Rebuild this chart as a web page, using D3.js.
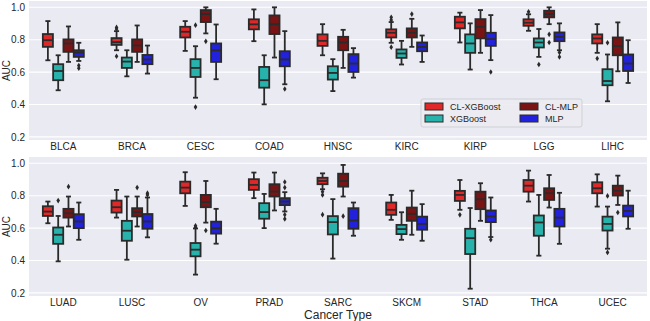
<!DOCTYPE html>
<html>
<head>
<meta charset="utf-8">
<script src="https://cdn.jsdelivr.net/npm/d3@7"></script>
<style>
  html, body { margin: 0; padding: 0; background: #ffffff; }
  svg { display: block; }
  text { font-family: "Liberation Sans", Arial, sans-serif; fill: #262626; }
</style>
</head>
<body>
<svg id="chart" width="650" height="321"></svg>
<script>
// ---------------- DATA ----------------
const cancersTop = ["BLCA","BRCA","CESC","COAD","HNSC","KIRC","KIRP","LGG","LIHC"];
const cancersBottom = ["LUAD","LUSC","OV","PRAD","SARC","SKCM","STAD","THCA","UCEC"];
const seriesNames = ["CL-XGBoost","XGBoost","CL-MLP","MLP"];
const seriesColors = ["#e02828","#27b3ab","#7a1414","#2222dc"];
const yTicks = [0.2,0.4,0.6,0.8,1.0];

// box stats per cancer type (order: cancersTop then cancersBottom): [whiskerLow, q1, median, q3, whiskerHigh]
const clXgbStats = [
  [0.673,0.756,0.797,0.835,0.915],[0.735,0.768,0.785,0.810,0.853],[0.731,0.814,0.849,0.880,0.915],
  [0.791,0.864,0.895,0.926,0.987],[0.704,0.762,0.793,0.833,0.896],[0.781,0.814,0.843,0.864,0.909],
  [0.783,0.870,0.907,0.942,0.967],[0.855,0.886,0.905,0.926,0.957],[0.719,0.777,0.808,0.833,0.896],
  [0.630,0.675,0.702,0.735,0.764],[0.665,0.696,0.729,0.770,0.836],[0.737,0.815,0.850,0.887,0.945],
  [0.785,0.836,0.867,0.902,0.943],[0.840,0.871,0.891,0.911,0.938],[0.651,0.682,0.713,0.758,0.805],
  [0.713,0.768,0.805,0.830,0.897],[0.764,0.825,0.862,0.897,0.955],[0.733,0.815,0.846,0.883,0.932]
];
const xgbStats = [
  [0.488,0.550,0.607,0.649,0.704],[0.574,0.626,0.665,0.690,0.735],[0.442,0.570,0.626,0.680,0.760],
  [0.401,0.504,0.550,0.632,0.704],[0.483,0.554,0.595,0.636,0.680],[0.647,0.688,0.715,0.740,0.793],
  [0.616,0.719,0.777,0.833,0.901],[0.694,0.752,0.783,0.808,0.866],[0.420,0.519,0.545,0.618,0.709],
  [0.395,0.503,0.559,0.604,0.675],[0.405,0.522,0.584,0.645,0.795],[0.313,0.426,0.467,0.508,0.598],
  [0.600,0.658,0.699,0.754,0.811],[0.412,0.561,0.637,0.674,0.779],[0.528,0.563,0.594,0.620,0.698],
  [0.226,0.440,0.538,0.596,0.724],[0.430,0.553,0.635,0.678,0.805],[0.473,0.585,0.626,0.671,0.733]
];
const clMlpStats = [
  [0.663,0.725,0.777,0.802,0.882],[0.663,0.725,0.764,0.802,0.888],[0.839,0.909,0.958,0.983,1.000],
  [0.690,0.835,0.895,0.950,1.000],[0.626,0.735,0.783,0.818,0.861],[0.756,0.814,0.843,0.870,0.929],
  [0.719,0.808,0.880,0.927,0.983],[0.896,0.938,0.958,0.979,1.000],[0.605,0.704,0.760,0.814,0.907],
  [0.610,0.665,0.692,0.719,0.795],[0.610,0.672,0.698,0.723,0.795],[0.634,0.729,0.760,0.805,0.891],
  [0.709,0.795,0.826,0.871,0.943],[0.795,0.856,0.891,0.936,0.990],[0.559,0.645,0.688,0.727,0.831],
  [0.645,0.717,0.778,0.825,0.877],[0.727,0.774,0.815,0.846,0.928],[0.743,0.801,0.831,0.862,0.924]
];
const mlpStats = [
  [0.669,0.694,0.721,0.735,0.781],[0.591,0.649,0.678,0.706,0.764],[0.556,0.663,0.735,0.777,0.894],
  [0.525,0.636,0.678,0.729,0.853],[0.566,0.601,0.653,0.711,0.748],[0.663,0.729,0.756,0.783,0.826],
  [0.674,0.762,0.804,0.843,0.952],[0.735,0.791,0.818,0.845,0.901],[0.533,0.607,0.653,0.709,0.797],
  [0.528,0.600,0.641,0.686,0.758],[0.543,0.596,0.641,0.687,0.789],[0.504,0.566,0.599,0.640,0.719],
  [0.703,0.742,0.764,0.785,0.822],[0.553,0.596,0.647,0.723,0.758],[0.522,0.590,0.626,0.671,0.748],
  [0.545,0.637,0.672,0.709,0.789],[0.503,0.610,0.665,0.719,0.818],[0.596,0.672,0.706,0.739,0.831]
];

// outliers per cancer type (same order)
const clXgbOutliers = [[],[0.876,0.866,0.698],[],[],[],[0.938,0.921,0.754],[],[0.972],[0.684],
  [],[],[],[],[0.825,0.805,0.683],[],[0.682],[],[]];
const xgbOutliers = [[],[],[0.384,0.890],[],[],[],[],[0.647],[0.781],
  [0.770],[],[0.614,0.606],[],[],[],[],[],[0.799,0.450]];
const clMlpOutliers = [[],[],[0.790],[],[],[0.958],[],[0.833,0.783],[],
  [0.856],[0.850],[0.585],[],[0.674],[],[],[],[0.696]];
const mlpOutliers = [[0.641,0.624],[],[],[0.496],[],[],[0.601],[0.721,0.694],[],
  [],[0.816,0.805],[],[0.885,0.850,0.683,0.657],[],[],[0.528],[],[]];

// ---------------- CHART ----------------
const statsBySeries = [clXgbStats, xgbStats, clMlpStats, mlpStats];
const outBySeries = [clXgbOutliers, xgbOutliers, clMlpOutliers, mlpOutliers];
const lineColor = "#2a2a2a";
const bg = "#eaeaf2";
const svg = d3.select("#chart");

const left = 29, right = 647;
const panels = [
  {cats: cancersTop, offset: 0, top: 1, bottom: 140},
  {cats: cancersBottom, offset: 9, top: 157, bottom: 296}
];
const yDomain = [0.181, 1.039];

panels.forEach((p, pi) => {
  const x = d3.scaleBand().domain(p.cats).range([left, right]).paddingInner(0).paddingOuter(0);
  const y = d3.scaleLinear().domain(yDomain).range([p.bottom, p.top]);
  const bw = x.bandwidth();
  const hue = d3.scaleBand().domain(seriesNames).range([-0.3 * bw, 0.3 * bw]);
  const boxW = hue.bandwidth() * 0.98;

  const g = svg.append("g");
  g.append("rect").attr("x", left).attr("y", p.top).attr("width", right - left)
    .attr("height", p.bottom - p.top).attr("fill", bg);

  // grid
  g.selectAll(".grid").data(yTicks).join("line")
    .attr("x1", left).attr("x2", right)
    .attr("y1", d => y(d)).attr("y2", d => y(d))
    .attr("stroke", "#ffffff").attr("stroke-width", 1.1);

  // y axis
  const ya = g.append("g").attr("transform", `translate(${left},0)`)
    .call(d3.axisLeft(y).tickValues(yTicks).tickFormat(d3.format(".1f")).tickSize(0).tickPadding(4));
  ya.select(".domain").remove();
  ya.selectAll("text").attr("font-size", 10).attr("fill", "#262626")
    .style("font-family", '"Liberation Sans", Arial, sans-serif');

  // x axis
  const xa = g.append("g").attr("transform", `translate(0,${p.bottom})`)
    .call(d3.axisBottom(x).tickSize(0).tickPadding(3));
  xa.select(".domain").remove();
  xa.selectAll("text").attr("font-size", 10).attr("fill", "#262626")
    .style("font-family", '"Liberation Sans", Arial, sans-serif');

  // y label
  g.append("text")
    .attr("transform", `translate(9.5,${(p.top + p.bottom) / 2}) rotate(-90)`)
    .attr("text-anchor", "middle").attr("font-size", 10).text("AUC");

  // boxes
  p.cats.forEach((cat, ci) => {
    const idx = p.offset + ci;
    seriesNames.forEach((s, si) => {
      const st = statsBySeries[si][idx];
      const cx = x(cat) + bw / 2 + hue(s) + hue.bandwidth() / 2;
      const bg2 = g.append("g");
      const capW = boxW / 2;
      // whiskers
      bg2.append("line").attr("x1", cx).attr("x2", cx).attr("y1", y(st[0])).attr("y2", y(st[1]))
        .attr("stroke", lineColor).attr("stroke-width", 1.8);
      bg2.append("line").attr("x1", cx).attr("x2", cx).attr("y1", y(st[3])).attr("y2", y(st[4]))
        .attr("stroke", lineColor).attr("stroke-width", 1.8);
      // caps
      [st[0], st[4]].forEach(v => {
        bg2.append("line").attr("x1", cx - capW / 2).attr("x2", cx + capW / 2)
          .attr("y1", y(v)).attr("y2", y(v))
          .attr("stroke", lineColor).attr("stroke-width", 1.8);
      });
      // box
      bg2.append("rect").attr("x", cx - boxW / 2).attr("width", boxW)
        .attr("y", y(st[3])).attr("height", y(st[1]) - y(st[3]))
        .attr("fill", seriesColors[si]).attr("stroke", lineColor).attr("stroke-width", 1.8);
      // median
      bg2.append("line").attr("x1", cx - boxW / 2).attr("x2", cx + boxW / 2)
        .attr("y1", y(st[2])).attr("y2", y(st[2]))
        .attr("stroke", lineColor).attr("stroke-width", 1.8);
      // outliers
      bg2.selectAll("path.fl").data(outBySeries[si][idx]).join("path")
        .attr("d", "M0,-2.8L1.8,0L0,2.8L-1.8,0Z")
        .attr("transform", d => `translate(${cx},${y(d)})`)
        .attr("fill", lineColor);
    });
  });

  // legend in top panel
  if (pi === 0) {
    const lg = g.append("g").attr("transform", "translate(421,99)");
    lg.append("rect").attr("width", 161).attr("height", 28).attr("rx", 2)
      .attr("fill", "#ebebf1").attr("fill-opacity", 0.9)
      .attr("stroke", "#cfcfd6").attr("stroke-width", 1);
    const pos = [[4, 4], [4, 16], [99, 4], [99, 16]];
    seriesNames.forEach((s, si) => {
      const [lx, ly] = pos[si];
      lg.append("rect").attr("x", lx).attr("y", ly).attr("width", 18).attr("height", 7)
        .attr("fill", seriesColors[si]).attr("stroke", lineColor).attr("stroke-width", 1);
      lg.append("text").attr("x", lx + 25).attr("y", ly + 7).attr("font-size", 9).text(s);
    });
  }
});

// x axis title
svg.append("text").attr("x", (left + right) / 2).attr("y", 318.5).attr("text-anchor", "middle")
  .attr("font-size", 12).text("Cancer Type");
</script>
</body>
</html>
